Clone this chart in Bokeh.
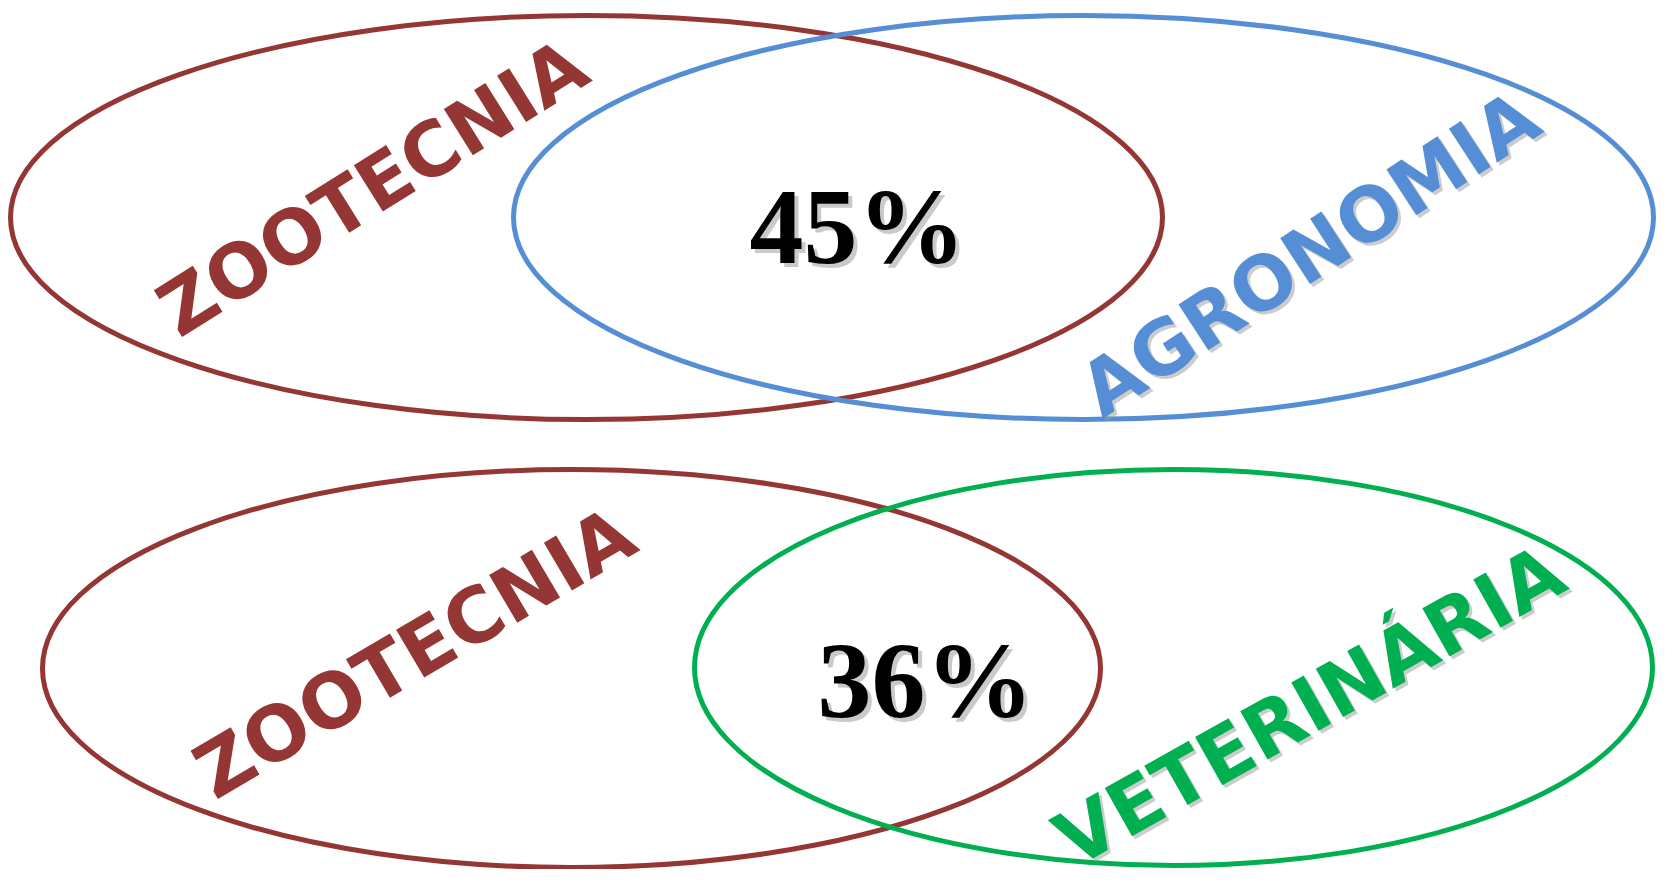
from bokeh.plotting import figure
from bokeh.models import Range1d
from bokeh.embed import file_html
from bokeh.resources import INLINE
from bokeh.core.properties import value

# ---- data ----
course_names = ["ZOOTECNIA", "AGRONOMIA", "ZOOTECNIA", "VETERINÁRIA"]
course_colors = ["#943634", "#558ED5", "#943634", "#00B050"]
overlap_pct = [45, 36]

# ellipse geometry (picture pixel coordinates)
ell_x = [586, 1083, 571, 1173]
ell_y = [217, 217, 668, 667]
ell_w = [1152, 1140, 1058, 958]
ell_h = [404, 404, 398, 396]

# label placement
lab_x = [372, 1309, 414, 1309]
lab_y = [187, 253, 652, 705]
lab_angle = [32, 33, 30.5, 29.5]
lab_size = ["75px", "75px", "76px", "76px"]
lab_shadow = [False, True, False, True]

pct_x = [857, 925]
pct_y = [226, 680]

W, H = 1656, 869
p = figure(width=W, height=H, output_backend="svg", toolbar_location=None,
           x_range=Range1d(0, W), y_range=Range1d(H, 0),
           min_border=0, outline_line_color=None)
p.axis.visible = False
p.grid.visible = False
p.background_fill_color = "white"
p.border_fill_color = "white"

p.ellipse(x=ell_x, y=ell_y, width=ell_w, height=ell_h,
          fill_color=None, line_color=course_colors, line_width=5)

# labels with optional shadow
for i, name in enumerate(course_names):
    if lab_shadow[i]:
        p.text(x=[lab_x[i] + 3], y=[lab_y[i] + 3], text=[name], angle=lab_angle[i], angle_units="deg",
               text_font=value("DejaVu Sans"), text_font_style="bold", text_font_size=lab_size[i],
               text_align="center", text_baseline="middle", text_color="#9a9a9a", text_alpha=0.5)
    p.text(x=[lab_x[i]], y=[lab_y[i]], text=[name], angle=lab_angle[i], angle_units="deg",
           text_font=value("DejaVu Sans"), text_font_style="bold", text_font_size=lab_size[i],
           text_align="center", text_baseline="middle", text_color=course_colors[i])

pct_text = [f"{v}%" for v in overlap_pct]
p.text(x=[x + 4 for x in pct_x], y=[y + 4 for y in pct_y], text=pct_text,
       text_font=value("Liberation Serif"), text_font_style="bold", text_font_size="108px",
       text_align="center", text_baseline="middle", text_color="#8a8a8a", text_alpha=0.45)
p.text(x=pct_x, y=pct_y, text=pct_text,
       text_font=value("Liberation Serif"), text_font_style="bold", text_font_size="108px",
       text_align="center", text_baseline="middle", text_color="black")

open("out.html", "w").write(file_html(p, INLINE))
